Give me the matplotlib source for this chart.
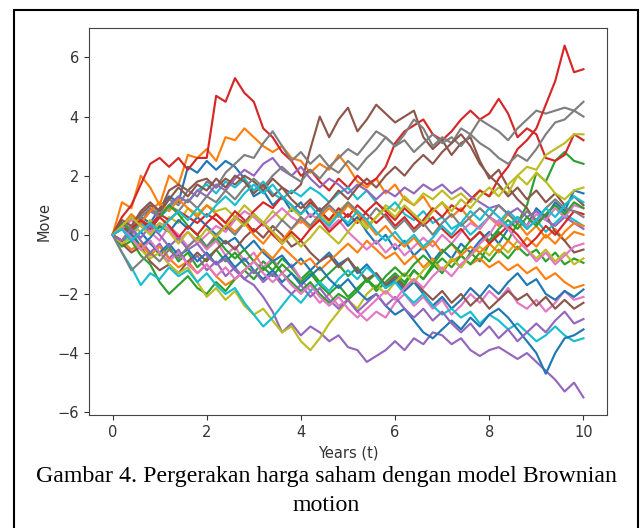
import numpy as np
import matplotlib
matplotlib.use("Agg")
import matplotlib.pyplot as plt
from matplotlib.patches import Rectangle

# Brownian motion paths, one value every 0.2 years
years_max = 10

path_00 = [0, 0.3, 0.1, 0.6, 0.4, 0.9, 1.3, 1.1, 2.3, 2.1, 2.5, 2.2, 2.5, 2.3, 1.9, 1.3, 1.5, 1.0, 1.3, 0.8,
           1.1, 0.6, 0.9, 0.4, 0.7, 0.3, 0.6, 0.1, -0.3, 0.0, -0.5, -0.2, -0.7, -0.4, -0.9, -0.5, -0.8, -0.3, -0.6, -0.2,
           0.1, -0.3, 0.2, 0.6, 0.3, 0.9, 0.6, 1.1, 0.8, 1.5, 1.4]
path_01 = [0, 1.1, 0.9, 2.0, 1.6, 1.0, 2.0, 1.7, 2.7, 2.6, 2.9, 2.5, 3.3, 3.2, 3.6, 3.3, 3.0, 2.8, 3.0, 2.6,
           2.5, 2.1, 2.4, 2.2, 2.7, 2.3, 1.8, 1.6, 1.9, 1.4, 1.7, 1.2, 1.0, 1.3, 0.8, 1.1, 0.6, 0.9, 0.5, 0.2,
           0.6, 0.3, 0.7, 0.4, 0.0, 0.3, -0.1, 0.2, -0.2, 0.1, 0.0]
path_02 = [0, -0.3, 0.1, -0.4, -0.2, -0.7, -0.4, -0.9, -0.6, -1.1, -0.8, -0.5, -0.9, -0.6, -1.0, -1.3, -0.9, -1.2, -0.8, -1.1,
           -1.5, -1.2, -1.6, -1.3, -1.0, -1.4, -1.1, -1.6, -1.3, -1.8, -1.4, -1.7, -1.2, -1.5, -1.0, -1.3, -0.8, -1.1, -0.6, -0.9,
           -0.3, 0.1, -0.2, 0.4, 1.0, 2.1, 1.8, 2.5, 2.8, 2.5, 2.4]
path_03 = [0, 0.6, 1.0, 1.7, 2.4, 2.6, 2.3, 2.6, 2.2, 2.6, 2.6, 4.7, 4.5, 5.3, 4.8, 4.5, 3.6, 3.3, 2.8, 2.5,
           2.0, 2.2, 1.8, 1.5, 1.9, 1.6, 2.0, 1.7, 1.9, 2.3, 3.1, 3.5, 3.7, 3.9, 3.4, 3.2, 3.5, 3.9, 4.2, 3.9,
           4.1, 4.6, 4.1, 3.3, 3.6, 3.4, 2.6, 2.5, 2.7, 3.4, 3.2]
path_04 = [0, -0.3, 0.2, -0.2, -0.6, -0.3, -0.8, -0.5, -1.0, -0.7, -1.2, -0.9, -1.4, -1.1, -1.5, -1.7, -2.1, -2.6, -3.3, -3.0,
           -3.4, -3.1, -3.3, -3.6, -3.4, -3.8, -3.9, -4.3, -4.1, -3.9, -3.6, -3.9, -3.5, -3.7, -3.3, -3.4, -3.7, -3.5, -3.9, -4.1,
           -3.9, -3.8, -4.0, -4.2, -4.0, -4.3, -4.6, -4.9, -5.3, -5.0, -5.5]
path_05 = [0, 0.4, 0.2, 0.7, 1.0, 0.8, 1.5, 1.7, 1.5, 1.8, 1.9, 1.6, 1.9, 1.7, 2.0, 1.8, 1.5, 1.9, 1.6, 1.4,
           1.7, 2.9, 4.0, 3.3, 3.9, 4.3, 3.5, 3.9, 4.4, 4.1, 3.8, 4.0, 4.2, 3.3, 2.9, 3.2, 2.7, 3.1, 3.3, 2.5,
           1.9, 2.2, 1.6, 1.2, 0.9, 0.4, 0.7, 0.1, -0.2, -0.6, -0.5]
path_06 = [0, 0.3, -0.1, 0.4, 0.1, -0.2, 0.3, 0.0, -0.4, -0.1, -0.5, -0.2, -0.7, -0.4, -0.9, -0.6, -1.1, -0.8, -1.3, -1.0,
           -1.5, -1.9, -2.3, -2.0, -2.4, -2.2, -2.6, -2.9, -2.6, -2.8, -2.3, -2.0, -2.4, -2.1, -2.5, -2.2, -2.7, -2.4, -2.0, -2.3,
           -1.9, -2.2, -1.8, -2.3, -2.5, -2.2, -2.6, -2.3, -1.9, -2.2, -2.1]
path_07 = [0, 0.2, 0.6, 0.4, 0.9, 0.7, 1.2, 1.0, 1.5, 1.3, 1.8, 1.6, 2.1, 2.4, 2.7, 2.6, 3.1, 3.5, 3.0, 2.5,
           2.8, 2.4, 2.7, 2.3, 2.6, 2.9, 2.7, 3.1, 3.5, 3.3, 3.0, 3.4, 3.9, 3.6, 3.0, 3.3, 3.1, 3.6, 3.4, 3.9,
           3.7, 3.5, 3.2, 3.6, 3.9, 4.2, 4.1, 4.2, 4.3, 4.2, 4.5]
path_08 = [0, -0.2, 0.3, 0.1, 0.5, 0.2, 0.6, 0.4, 0.9, 0.7, 1.0, 0.8, 0.9, 0.6, 1.0, 0.7, 0.4, 0.8, 0.5, 0.9,
           0.6, 0.3, 0.7, 0.4, 0.8, 1.1, 0.7, 0.3, 0.6, 1.0, 0.8, 1.3, 1.0, 1.4, 1.2, 1.5, 1.2, 1.4, 1.1, 1.5,
           1.3, 1.6, 1.4, 2.0, 2.3, 2.2, 2.7, 2.9, 3.1, 3.4, 3.4]
path_09 = [0, -0.3, 0.1, 0.4, 0.2, 0.6, 0.9, 1.3, 1.1, 1.5, 1.7, 1.4, 1.8, 1.6, 1.9, 1.5, 1.8, 1.4, 1.2, 1.5,
           1.3, 1.6, 1.4, 1.1, 1.4, 1.6, 1.2, 1.5, 1.1, 0.8, 1.1, 0.7, 0.5, 0.8, 0.4, 0.6, 0.2, 0.4, 0.0, 0.3,
           0.6, 0.4, 0.8, 0.5, 0.2, 0.5, 0.1, 0.4, 0.7, 0.5, 0.3]
path_10 = [0, 0.3, 0.0, -0.4, -0.1, 0.3, 0.1, 0.5, 0.2, 0.6, 0.3, 0.0, -0.3, -0.1, -0.5, -0.2, -0.6, -0.9, -0.7, -1.1,
           -0.8, -1.2, -0.9, -0.6, -1.0, -0.8, -1.3, -1.0, -1.4, -1.8, -1.5, -1.9, -1.6, -2.0, -2.4, -2.1, -2.5, -2.2, -1.8, -2.1,
           -1.7, -2.0, -1.6, -1.3, -1.7, -1.5, -2.0, -2.2, -1.9, -2.1, -1.85]
path_11 = [0, -0.2, -0.5, -0.3, -0.7, -0.4, -0.8, -1.1, -0.9, -1.3, -1.0, -1.4, -1.7, -1.5, -1.2, -0.9, -0.5, -0.8, -0.4, -0.7,
           -1.0, -0.8, -1.2, -0.9, -0.6, -0.3, -0.6, -0.2, -0.5, -0.8, -0.6, -1.0, -0.7, -1.1, -0.8, -1.2, -0.9, -0.7, -1.0, -0.8,
           -1.1, -0.9, -1.2, -1.0, -1.3, -1.1, -1.5, -1.3, -1.6, -1.8, -1.7]
path_12 = [0, -0.4, -0.2, -0.7, -1.0, -1.6, -2.0, -1.7, -1.4, -1.8, -2.0, -1.6, -1.9, -1.5, -1.2, -1.5, -1.1, -1.4, -1.0, -1.3,
           -1.6, -1.3, -1.7, -2.0, -1.7, -2.1, -1.8, -1.5, -1.9, -1.6, -1.3, -1.6, -1.2, -1.5, -1.1, -0.8, -1.1, -0.7, -1.0, -0.6,
           -0.9, -0.5, -0.8, -0.4, -0.7, -0.5, -0.9, -0.6, -1.0, -0.8, -0.95]
path_13 = [0, 0.3, 0.1, 0.5, 0.3, 0.7, 0.5, 0.8, 0.6, 0.4, 0.7, 0.5, 0.2, 0.6, 0.4, 0.8, 1.1, 0.9, 1.3, 1.0,
           0.7, 1.1, 0.8, 0.5, 0.9, 0.6, 1.0, 0.7, 0.4, 0.7, 0.3, 0.6, 0.2, 0.5, 0.9, 0.6, 1.0, 0.8, 1.2, 1.5,
           1.3, 1.9, 2.3, 2.9, 3.2, 3.6, 4.4, 5.2, 6.4, 5.5, 5.6]
path_14 = [0, 0.3, 0.6, 0.4, 0.8, 0.6, 1.0, 1.3, 1.1, 1.5, 1.3, 1.7, 1.5, 1.9, 2.2, 2.0, 2.4, 2.6, 2.2, 2.0,
           2.3, 1.9, 1.6, 1.9, 1.7, 1.4, 1.7, 1.5, 1.2, 1.5, 1.3, 1.6, 1.4, 1.7, 1.5, 1.7, 1.4, 1.6, 1.3, 1.1,
           0.9, 1.0, 0.7, 0.9, 0.6, 0.8, 0.5, 0.3, 0.6, 0.4, 0.2]
path_15 = [0, -0.3, -0.6, -0.4, -0.9, -1.2, -1.0, -1.3, -0.9, -0.6, -0.9, -0.5, -0.2, -0.5, -0.1, 0.2, -0.1, 0.3, 0.0, -0.4,
           -0.2, -0.6, -0.9, -0.7, -1.1, -0.8, -1.2, -1.5, -1.3, -1.7, -1.4, -1.8, -1.5, -1.9, -2.2, -1.9, -2.3, -2.0, -2.4, -2.1,
           -2.5, -2.2, -1.9, -2.2, -2.0, -2.4, -2.1, -2.5, -2.2, -2.5, -2.3]
path_16 = [0, 0.2, 0.5, 0.3, 0.1, 0.4, 0.2, -0.2, 0.1, -0.3, 0.0, 0.3, 0.1, 0.5, 0.8, 0.6, 0.3, 0.6, 0.9, 0.6,
           0.4, 0.7, 0.5, 0.2, 0.5, 0.1, -0.2, -0.5, -0.2, -0.6, -0.3, -0.7, -0.4, -0.1, -0.4, 0.0, -0.3, 0.1, 0.4, 0.2,
           0.6, 0.4, 0.2, 0.5, 0.3, 0.7, 0.5, 0.9, 0.6, 1.0, 0.9]
path_17 = [0, 0.4, 0.2, 0.6, 0.9, 0.6, 1.0, 0.8, 1.2, 0.9, 1.3, 1.1, 1.5, 1.2, 1.6, 1.9, 1.6, 2.0, 2.3, 2.0,
           1.8, 2.2, 1.9, 2.3, 2.1, 2.5, 2.2, 2.6, 2.9, 3.3, 3.0, 3.2, 2.8, 3.1, 3.4, 3.1, 3.3, 3.0, 3.4, 3.1,
           2.9, 2.6, 2.4, 2.7, 2.5, 2.9, 3.4, 3.8, 3.9, 4.2, 4.0]
path_18 = [0, -0.3, -0.1, -0.5, -0.8, -0.6, -1.0, -1.3, -1.1, -1.6, -2.1, -1.8, -2.2, -1.9, -2.4, -2.7, -2.5, -2.9, -3.3, -3.1,
           -3.6, -3.9, -3.5, -3.0, -2.6, -2.2, -2.5, -2.0, -1.7, -2.0, -1.6, -1.3, -1.6, -1.2, -0.9, -1.2, -0.8, -1.1, -0.7, -0.4,
           -0.7, -0.3, -0.6, -0.2, -0.5, -0.8, -0.5, -0.9, -0.6, -1.0, -0.8]
path_19 = [0, -0.6, -1.1, -1.7, -1.3, -1.5, -1.1, -1.4, -1.2, -1.6, -1.3, -1.7, -2.0, -1.8, -2.3, -2.7, -3.1, -2.8, -2.4, -2.0,
           -2.3, -1.9, -1.6, -1.9, -1.5, -1.2, -1.5, -1.1, -1.4, -1.8, -1.6, -2.0, -2.3, -2.0, -2.4, -2.7, -2.5, -2.8, -2.6, -3.0,
           -2.7, -2.9, -3.2, -3.0, -3.3, -3.6, -3.4, -3.1, -3.4, -3.6, -3.5]
path_20 = [0, 0.2, -0.2, 0.1, -0.3, -0.6, -0.3, -0.7, -0.5, -0.9, -0.6, -1.0, -0.7, -1.1, -0.8, -1.2, -1.5, -1.2, -1.6, -1.3,
           -1.7, -1.4, -1.1, -1.5, -1.8, -1.5, -1.9, -2.2, -2.0, -2.4, -2.7, -2.5, -2.9, -3.3, -3.5, -3.2, -2.9, -3.2, -2.8, -3.1,
           -2.7, -2.5, -2.8, -3.2, -3.6, -4.0, -4.7, -4.0, -3.5, -3.4, -3.2]
path_21 = [0, 0.3, 0.7, 0.4, 0.8, 1.1, 0.8, 1.2, 0.9, 0.6, 1.0, 0.7, 0.4, 0.1, 0.4, 0.0, -0.3, 0.1, -0.2, 0.2,
           0.5, 0.2, 0.6, 0.9, 0.6, 1.0, 0.7, 0.4, 0.0, 0.3, -0.1, -0.4, -0.1, -0.5, -0.2, -0.6, -0.3, -0.7, -0.4, -0.6,
           -0.3, -0.6, -0.2, -0.5, -0.1, -0.4, 0.0, -0.3, 0.1, 0.4, 0.3]
path_22 = [0, 0.4, 0.1, 0.5, 0.2, 0.6, 1.0, 0.7, 0.3, 0.0, -0.4, -0.1, -0.5, -0.8, -0.5, -0.9, -1.2, -0.9, -1.3, -1.6,
           -1.9, -1.6, -2.0, -2.3, -2.0, -2.2, -1.9, -1.5, -1.8, -1.4, -1.1, -1.4, -1.0, -0.7, -1.0, -0.6, -0.3, -0.6, -0.2, 0.1,
           -0.2, 0.2, 0.5, 0.2, 0.6, 0.3, 0.7, 1.0, 0.7, 1.1, 0.9]
path_23 = [0, -0.2, 0.2, 0.5, 0.2, 0.6, 0.3, -0.1, 0.3, 0.0, 0.4, 0.7, 0.4, 0.8, 0.5, 0.1, 0.4, 0.0, -0.3, 0.1,
           -0.2, 0.2, 0.5, 0.1, 0.4, 0.7, 0.4, 0.8, 1.1, 0.8, 0.5, 0.9, 0.6, 0.3, 0.6, 0.2, -0.1, 0.2, -0.2, 0.1,
           -0.3, 0.0, 0.3, 0.0, -0.4, -0.1, 0.3, 0.0, 0.4, 0.8, 0.7]
path_24 = [0, -0.2, 0.2, -0.1, 0.3, 0.0, -0.4, -0.1, -0.5, -0.3, -0.7, -1.0, -0.8, -1.2, -1.5, -1.2, -1.6, -1.3, -1.7, -2.0,
           -1.7, -2.1, -1.8, -2.2, -2.5, -2.2, -2.6, -2.3, -2.0, -2.4, -2.1, -2.5, -2.8, -2.5, -2.9, -2.6, -3.0, -3.3, -3.0, -3.4,
           -3.1, -3.5, -3.2, -3.6, -3.3, -3.0, -3.3, -2.9, -2.6, -3.0, -2.85]
path_25 = [0, 0.5, 0.3, 0.8, 1.1, 0.8, 1.2, 1.6, 1.3, 1.7, 1.5, 1.9, 1.6, 2.0, 1.8, 1.4, 1.7, 1.3, 1.6, 1.2,
           0.9, 1.2, 0.8, 1.1, 1.5, 1.2, 1.6, 1.9, 1.6, 2.0, 2.3, 2.0, 2.4, 2.7, 2.4, 2.8, 3.1, 3.4, 3.0, 2.4,
           2.0, 1.7, 1.3, 1.6, 1.2, 1.5, 1.1, 1.4, 1.0, 1.3, 1.0]
path_26 = [0, 0.2, -0.1, -0.5, -0.2, -0.6, -0.9, -0.6, -1.0, -1.3, -1.0, -1.4, -1.1, -1.5, -1.2, -0.9, -1.3, -1.6, -1.3, -1.7,
           -2.0, -1.7, -2.1, -2.4, -2.1, -2.5, -2.8, -2.5, -2.2, -1.9, -2.2, -1.8, -1.5, -1.8, -1.4, -1.1, -1.4, -1.0, -0.7, -0.3,
           0.0, 0.5, 0.2, -0.2, -0.5, -0.9, -0.6, -1.0, -0.7, -0.4, -0.3]
path_27 = [0, -0.6, -1.2, -0.9, -0.6, -0.9, -0.5, -0.8, -0.4, -0.1, -0.4, 0.0, 0.3, 0.0, 0.4, 0.7, 0.4, 0.1, 0.5, 0.2,
           0.6, 0.3, 0.7, 1.0, 0.7, 1.1, 0.8, 0.5, 0.9, 0.6, 0.2, 0.5, 0.1, 0.4, 0.0, 0.4, 0.7, 0.3, 0.6, 0.9,
           0.6, 1.0, 0.7, 0.4, 0.8, 0.5, 0.9, 1.2, 0.9, 0.8, 0.6]
path_28 = [0, 0.3, 0.6, 0.3, 0.0, 0.4, 0.1, -0.3, 0.1, -0.2, 0.2, -0.1, 0.3, 0.6, 0.3, 0.7, 0.4, 0.1, -0.3, 0.0,
           -0.4, -0.1, 0.3, 0.0, -0.3, 0.1, 0.5, 0.2, 0.6, 0.9, 0.6, 1.0, 0.7, 0.4, 0.8, 1.1, 0.8, 1.2, 0.9, 1.3,
           1.6, 1.3, 1.7, 2.0, 1.7, 2.1, 1.8, 1.4, 1.2, 1.5, 1.6]
path_29 = [0, 0.2, -0.2, 0.1, 0.4, 0.1, 0.5, 0.8, 0.5, 0.9, 0.6, 1.0, 1.3, 1.0, 1.4, 1.7, 1.4, 1.7, 1.3, 1.0,
           0.7, 1.0, 0.6, 0.3, 0.7, 0.4, 0.8, 0.5, 0.1, -0.2, 0.1, -0.3, 0.0, -0.4, -0.1, 0.3, 0.0, 0.4, 0.8, 0.5,
           0.9, 0.6, 0.3, 0.6, 0.2, 0.5, 0.9, 0.6, 1.0, 1.3, 1.1]

paths = [path_00, path_01, path_02, path_03, path_04, path_05, path_06, path_07, path_08, path_09,
         path_10, path_11, path_12, path_13, path_14, path_15, path_16, path_17, path_18, path_19,
         path_20, path_21, path_22, path_23, path_24, path_25, path_26, path_27, path_28, path_29]

caption_line1 = "Gambar 4. Pergerakan harga saham dengan model Brownian"
caption_line2 = "motion"

W, H = 641, 528
fig = plt.figure(figsize=(W / 100, H / 100), dpi=100)
ax = fig.add_axes([89 / W, (H - 415) / H, 518 / W, 387 / H])

for p in paths:
    t = np.linspace(0, years_max, len(p))
    ax.plot(t, p, lw=1.55)

ax.set_xlabel("Years (t)", fontsize=10.5, color="#333333", labelpad=4)
ax.set_ylabel("Move", fontsize=10.5, color="#333333", labelpad=4)
ax.tick_params(labelsize=10.5, colors="#333333", length=3.7)
for s in ax.spines.values():
    s.set_color("#444444")

# document frame and caption
fig.patches.append(Rectangle((14 / W, -0.05), (638 - 14) / W, 1.05 - 10 / H,
                             transform=fig.transFigure, fill=False, lw=1.5, ec="black"))
fig.text(326 / W, 1 - 482 / H, caption_line1, ha="center", va="baseline",
         family="Liberation Serif", fontsize=17.2)
fig.text(326 / W, 1 - 511 / H, caption_line2, ha="center", va="baseline",
         family="Liberation Serif", fontsize=17.2)

fig.savefig("out.png", dpi=100)
